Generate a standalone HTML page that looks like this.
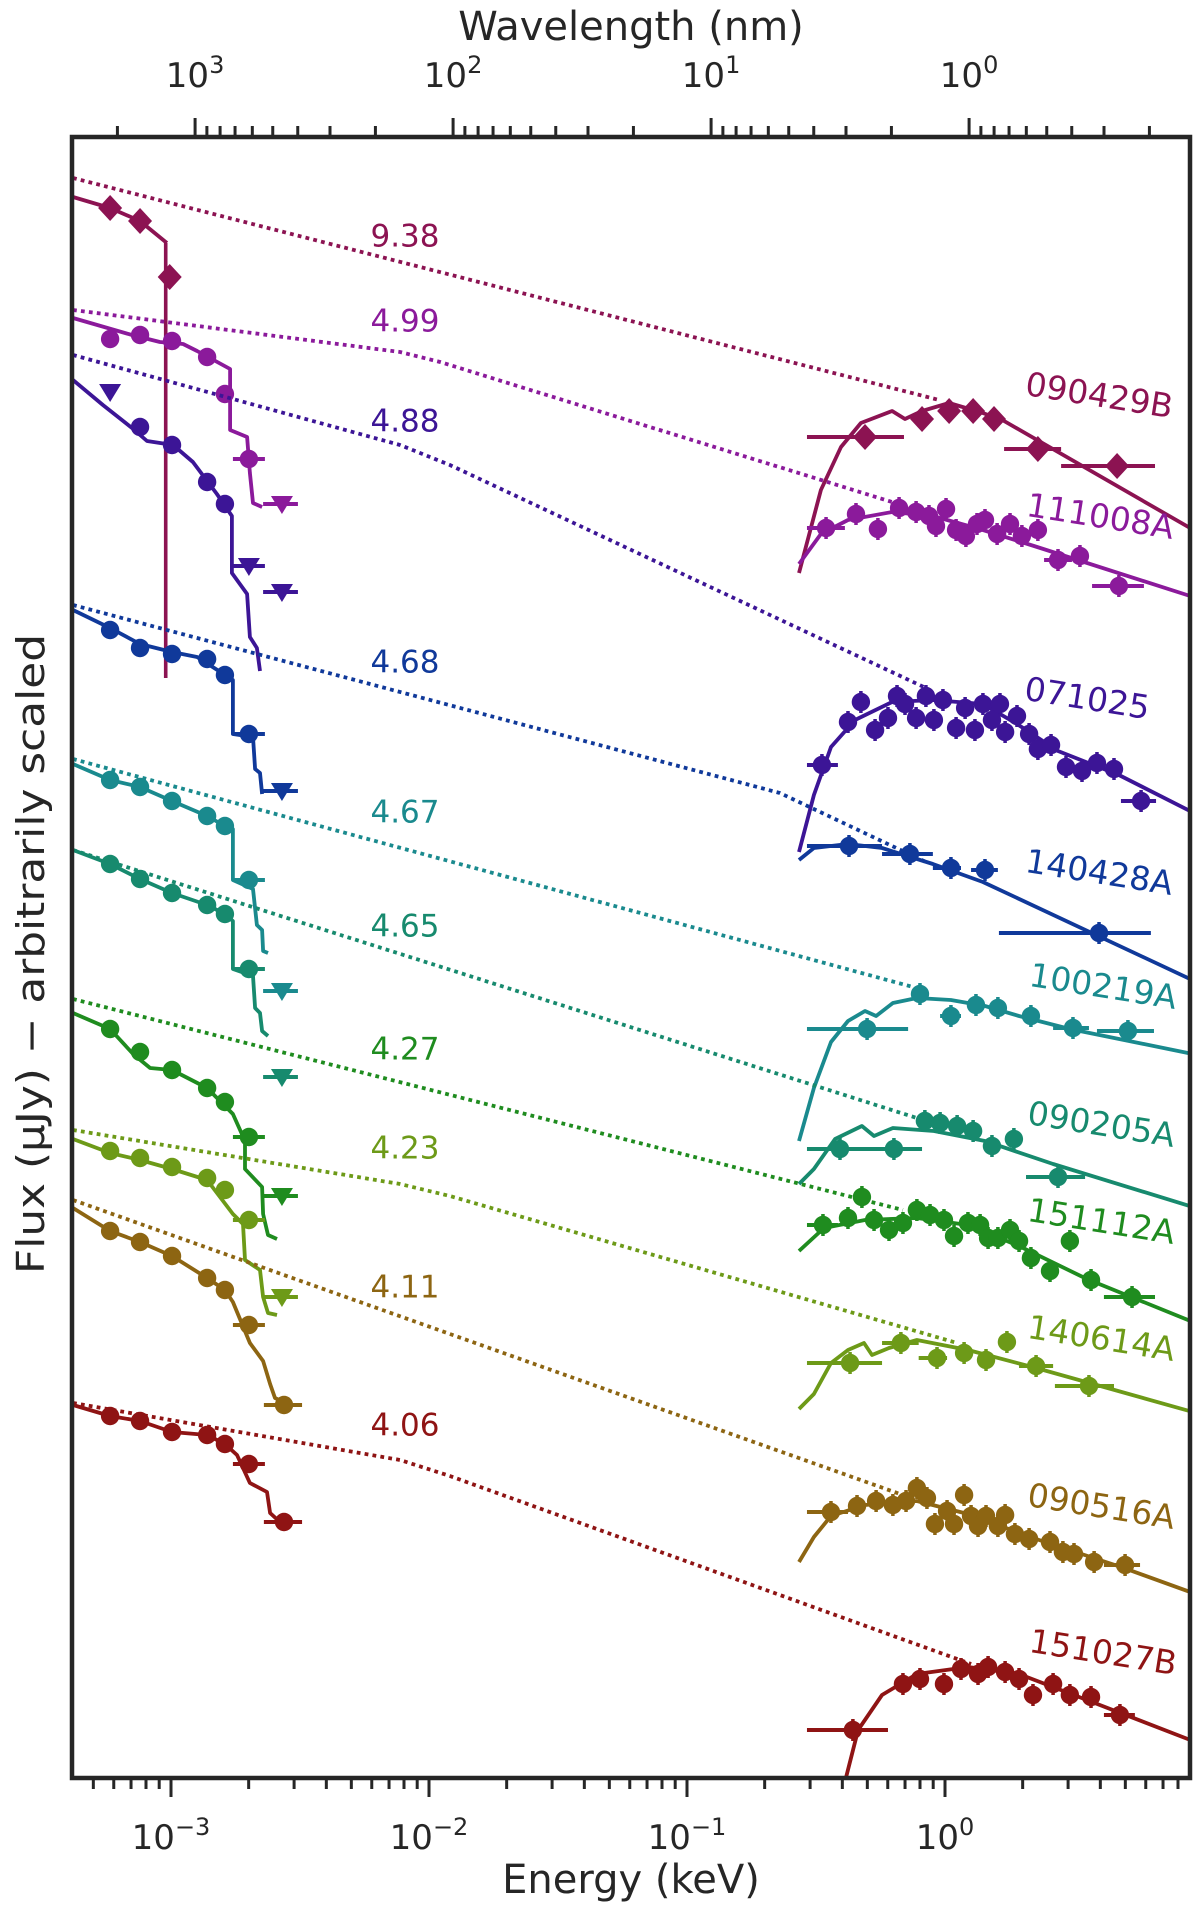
<!DOCTYPE html>
<html><head><meta charset="utf-8">
<style>
html,body{margin:0;padding:0;background:#fff;}
svg{display:block;}
text{font-family:"DejaVu Sans","Liberation Sans",sans-serif;}
</style></head>
<body>
<svg id="chart" width="1200" height="1916" viewBox="0 0 1200 1916" xmlns="http://www.w3.org/2000/svg">
<defs><clipPath id="plotclip"><rect x="72" y="137" width="1118" height="1641"/></clipPath></defs>
<rect x="0" y="0" width="1200" height="1916" fill="#fff"/>
<g id="marks" clip-path="url(#plotclip)"></g>
<g id="axes"></g>
</svg>
<script>
// ---- axis ticks ----
const energyTickExps = [-3, -2, -1, 0];
const wavelengthTickExps = [3, 2, 1, 0];
const zLabelLogE = -2.093;

// ---- 090429B ----
const dot090429B = [[-3.380,160.0],[-0.023,137.8]];
const optModel090429B = [[-3.380,158.1],[-3.236,157.0],[-3.120,155.7],[-3.016,153.5]];
const optPts090429B = [[-3.236,157.0,null,null,'D'],[-3.120,155.7,null,null,'D'],[-3.005,150.1,null,null,'D',153.5,110.0]];
const xModel090429B = [[-0.566,120.5],[-0.481,128.8],[-0.403,133.1],[-0.326,135.5],[-0.205,136.7],[-0.155,135.9],[-0.089,136.7],[0.016,137.5],[0.147,136.5],[0.229,135.7],[0.950,125.0]];
const xPts090429B = [[-0.310,134.1,-0.535,-0.159],[-0.089,135.9],[0.016,136.7],[0.109,136.7],[0.190,135.9],[0.360,132.9,0.229,0.450],[0.667,131.2,0.450,0.814]];
// ---- 111008A ----
const dot111008A = [[-3.380,146.8],[-2.112,142.6],[-1.957,141.6],[-0.205,127.6]];
const optModel111008A = [[-3.380,146.0],[-3.151,144.3],[-3.043,143.6],[-2.953,143.4],[-2.899,142.7],[-2.771,140.9],[-2.771,134.8],[-2.705,134.1],[-2.694,130.5],[-2.682,127.5],[-2.647,127.1]];
const optPts111008A = [[-3.236,143.9,null,null,'o'],[-3.120,144.3,null,null,'o'],[-2.996,143.7,null,null,'o'],[-2.860,142.1,null,null,'o'],[-2.791,138.4,null,null,'o'],[-2.698,131.9,-2.760,-2.636,'o'],[-2.570,127.4,-2.643,-2.508,'v']];
const xModel111008A = [[-0.566,121.4],[-0.481,124.4],[-0.376,125.8],[-0.205,126.6],[-0.047,126.2],[0.147,124.8],[0.345,123.2],[0.950,118.2]];
const xPts111008A = [[-0.461,125.0,-0.535,-0.388],[-0.345,126.4],[-0.260,124.9],[-0.178,127.0],[-0.112,126.6],[-0.062,126.2],[0.004,126.9],[-0.035,125.2],[0.043,124.8],[0.081,124.2],[0.124,125.4],[0.155,125.8],[0.202,124.4],[0.252,125.4],[0.298,124.2],[0.360,124.8],[0.438,121.8,0.384,0.492],[0.523,122.2],[0.674,119.2,0.570,0.771]];
// ---- 071025 ----
const dot071025 = [[-3.380,142.3],[-2.112,133.3],[-1.919,131.3],[-0.074,109.0]];
const optModel071025 = [[-3.380,139.8],[-3.264,137.3],[-3.151,135.0],[-3.093,133.7],[-2.992,133.3],[-2.915,131.6],[-2.822,128.4],[-2.764,126.2],[-2.764,120.5],[-2.705,118.4],[-2.694,114.1],[-2.667,113.0],[-2.655,110.7]];
const optPts071025 = [[-3.236,138.6,null,null,'v'],[-3.120,135.1,null,null,'o'],[-2.996,133.3,null,null,'o'],[-2.860,129.6,null,null,'o'],[-2.791,127.4,null,null,'o'],[-2.698,121.2,-2.760,-2.636,'v'],[-2.570,118.6,-2.643,-2.508,'v']];
const xModel071025 = [[-0.566,92.6],[-0.508,98.3],[-0.442,103.1],[-0.349,105.8],[-0.205,107.6],[-0.047,107.8],[0.147,107.4],[0.279,105.4],[0.438,102.7],[0.674,100.3],[0.950,96.7]];
const xPts071025 = [[-0.477,101.3,-0.535,-0.415],[-0.376,105.6],[-0.326,107.6],[-0.271,104.8],[-0.221,106.0],[-0.186,108.2],[-0.155,107.4],[-0.112,106.0],[-0.074,108.2],[-0.043,105.8],[-0.008,107.8],[0.043,105.0],[0.078,107.0],[0.116,104.8],[0.147,107.4],[0.182,105.8],[0.213,107.4],[0.233,104.6],[0.279,106.2],[0.326,104.4],[0.360,102.9],[0.411,103.3],[0.469,101.1],[0.531,100.7],[0.589,101.5],[0.655,100.9],[0.760,97.7,0.682,0.818]];
// ---- 140428A ----
const dot140428A = [[-3.380,117.3],[-0.640,98.5],[-0.074,91.6]];
const optModel140428A = [[-3.380,116.8],[-3.236,115.0],[-3.120,113.4],[-2.996,112.6],[-2.899,112.1],[-2.760,109.8],[-2.760,104.4],[-2.682,104.1],[-2.674,100.9],[-2.655,100.5],[-2.647,98.4]];
const optPts140428A = [[-3.236,114.8,null,null,'o'],[-3.120,113.0,null,null,'o'],[-2.996,112.4,null,null,'o'],[-2.860,111.9,null,null,'o'],[-2.791,110.3,null,null,'o'],[-2.698,104.4,-2.760,-2.636,'o'],[-2.570,98.7,-2.643,-2.508,'v']];
const xModel140428A = [[-0.566,91.8],[-0.508,93.0],[-0.376,93.4],[-0.244,93.0],[-0.047,91.4],[0.147,89.6],[0.950,79.9]];
const xPts140428A = [[-0.372,93.2,-0.535,-0.244],[-0.136,92.4,-0.244,-0.047],[0.023,91.0,-0.047,0.062],[0.155,90.8,0.101,0.205],[0.597,84.5,0.209,0.798]];
// ---- 100219A ----
const dot100219A = [[-3.380,101.9],[-0.124,79.1]];
const optModel100219A = [[-3.380,101.4],[-3.236,99.8],[-3.120,99.1],[-2.996,97.7],[-2.860,96.2],[-2.791,95.2],[-2.760,94.9],[-2.760,89.8],[-2.682,88.9],[-2.667,85.3],[-2.647,84.8],[-2.643,82.7],[-2.624,82.5]];
const optPts100219A = [[-3.236,99.8,null,null,'o'],[-3.120,99.1,null,null,'o'],[-2.996,97.7,null,null,'o'],[-2.860,96.2,null,null,'o'],[-2.791,95.2,null,null,'o'],[-2.698,89.8,-2.760,-2.636,'o'],[-2.570,78.7,-2.643,-2.508,'v']];
const xModel100219A = [[-0.566,63.7],[-0.508,69.0],[-0.442,73.6],[-0.376,75.7],[-0.310,76.7],[-0.267,76.2],[-0.202,77.5],[-0.109,78.0],[0.023,77.8],[0.155,77.2],[0.287,76.2],[0.484,74.9],[0.961,72.4]];
const xPts100219A = [[-0.302,74.9,-0.535,-0.143],[-0.097,78.4],[0.023,76.2,-0.019,0.062],[0.120,77.3],[0.205,77.0],[0.333,76.2],[0.496,75.0,0.419,0.558],[0.709,74.7,0.589,0.810]];
// ---- 090205A ----
const dot090205A = [[-3.380,92.8],[-0.109,66.0]];
const optModel090205A = [[-3.380,92.8],[-3.236,91.4],[-3.120,89.9],[-2.996,88.5],[-2.860,87.3],[-2.791,86.4],[-2.760,85.7],[-2.760,80.9],[-2.682,80.2],[-2.674,77.0],[-2.655,76.5],[-2.647,74.7],[-2.624,74.2]];
const optPts090205A = [[-3.236,91.4,null,null,'o'],[-3.120,89.9,null,null,'o'],[-2.996,88.5,null,null,'o'],[-2.860,87.3,null,null,'o'],[-2.791,86.4,null,null,'o'],[-2.698,80.9,-2.760,-2.636,'o'],[-2.570,70.1,-2.643,-2.508,'v']];
const xModel090205A = [[-0.566,59.4],[-0.508,60.9],[-0.426,63.9],[-0.322,65.2],[-0.275,64.2],[-0.202,65.0],[-0.043,64.7],[0.155,63.7],[0.419,61.4],[0.961,57.1]];
const xPts090205A = [[-0.407,62.9,-0.535,-0.202],[-0.198,62.9,-0.267,-0.089],[-0.078,65.7],[-0.019,65.5],[0.047,65.2],[0.109,64.7],[0.182,63.2],[0.267,63.9],[0.438,60.1,0.314,0.543]];
// ---- 151112A ----
const dot151112A = [[-3.380,77.9],[-0.163,56.8]];
const optModel151112A = [[-3.380,76.5],[-3.236,74.9],[-3.147,72.4],[-3.081,71.0],[-2.996,70.8],[-2.860,69.0],[-2.760,66.4],[-2.713,63.7],[-2.713,60.9],[-2.647,59.1],[-2.643,56.4],[-2.624,54.3],[-2.589,53.9]];
const optPts151112A = [[-3.236,74.9,null,null,'o'],[-3.120,72.6,null,null,'o'],[-2.996,70.8,null,null,'o'],[-2.860,69.0,null,null,'o'],[-2.791,67.6,null,null,'o'],[-2.698,64.1,-2.760,-2.636,'o'],[-2.570,58.2,-2.643,-2.508,'v']];
const xModel151112A = [[-0.566,52.7],[-0.469,55.0],[-0.310,55.8],[-0.109,56.0],[0.089,55.3],[0.287,53.2],[0.550,49.9],[0.961,45.6]];
const xPts151112A = [[-0.473,55.3,-0.535,-0.415],[-0.376,56.0],[-0.322,58.1],[-0.275,55.8],[-0.217,54.8],[-0.163,55.5],[-0.109,56.8],[-0.058,56.3],[-0.004,55.8],[0.035,54.2],[0.089,55.5],[0.136,55.3],[0.167,54.0],[0.205,54.0],[0.252,54.8],[0.287,53.7],[0.333,52.0],[0.407,50.7],[0.484,53.7],[0.566,49.8],[0.725,48.1,0.616,0.814]];
// ---- 140614A ----
const dot140614A = [[-3.380,64.8],[-2.112,59.4],[-1.919,58.2],[0.047,43.5]];
const optModel140614A = [[-3.380,63.9],[-3.236,62.5],[-3.120,61.8],[-2.996,60.9],[-2.860,59.8],[-2.760,56.4],[-2.721,55.4],[-2.713,51.8],[-2.655,50.8],[-2.643,48.1],[-2.624,46.5],[-2.589,46.3]];
const optPts140614A = [[-3.236,62.7,null,null,'o'],[-3.120,62.0,null,null,'o'],[-2.996,61.1,null,null,'o'],[-2.860,60.0,null,null,'o'],[-2.791,58.8,null,null,'o'],[-2.698,55.8,-2.760,-2.636,'o'],[-2.570,48.1,-2.643,-2.508,'v']];
const xModel140614A = [[-0.566,36.9],[-0.508,38.4],[-0.442,41.5],[-0.376,42.8],[-0.314,43.5],[-0.283,42.3],[-0.217,43.0],[-0.109,43.8],[0.089,42.8],[0.353,41.0],[0.961,36.6]];
const xPts140614A = [[-0.368,41.5,-0.535,-0.244],[-0.171,43.5,-0.244,-0.102],[-0.031,42.0,-0.102,0.008],[0.074,42.5],[0.159,41.8],[0.240,43.6],[0.353,41.2,0.287,0.419],[0.558,39.2,0.426,0.655]];
// ---- 090516A ----
const dot090516A = [[-3.380,57.8],[-0.109,27.8]];
const optModel090516A = [[-3.380,57.0],[-3.236,54.7],[-3.120,53.6],[-2.996,52.2],[-2.860,50.0],[-2.791,48.8],[-2.760,47.6],[-2.694,43.5],[-2.643,41.7],[-2.616,39.4],[-2.597,38.0],[-2.539,37.3]];
const optPts090516A = [[-3.236,54.7,null,null,'o'],[-3.120,53.6,null,null,'o'],[-2.996,52.2,null,null,'o'],[-2.860,50.0,null,null,'o'],[-2.791,48.8,null,null,'o'],[-2.698,45.3,-2.760,-2.636,'o'],[-2.562,37.3,-2.640,-2.492,'o']];
const xModel090516A = [[-0.566,21.6],[-0.508,24.1],[-0.442,26.2],[-0.310,27.3],[-0.109,27.7],[0.089,26.4],[0.353,23.9],[0.682,21.1],[0.961,18.5]];
const xPts090516A = [[-0.442,26.6,-0.535,-0.376],[-0.341,27.2],[-0.267,27.7],[-0.202,27.3],[-0.151,27.7],[-0.109,29.0],[-0.070,28.0],[-0.039,25.4],[0.008,26.7],[0.035,25.4],[0.074,28.3],[0.101,26.2],[0.128,25.2],[0.159,26.2],[0.205,25.2],[0.233,26.3],[0.271,24.4],[0.326,23.9],[0.407,23.6],[0.457,22.6],[0.500,22.4],[0.578,21.6],[0.698,21.3,0.616,0.756]];
// ---- 151027B ----
const dot151027B = [[-3.380,37.5],[-2.112,31.8],[-1.919,30.2],[-0.640,18.3],[0.101,11.4]];
const optModel151027B = [[-3.380,37.3],[-3.236,36.2],[-3.120,35.7],[-2.996,34.6],[-2.860,34.3],[-2.791,33.4],[-2.744,32.3],[-2.694,29.5],[-2.628,28.6],[-2.616,26.5],[-2.578,25.6]];
const optPts151027B = [[-3.236,36.2,null,null,'o'],[-3.120,35.7,null,null,'o'],[-2.996,34.6,null,null,'o'],[-2.860,34.3,null,null,'o'],[-2.791,33.4,null,null,'o'],[-2.698,31.4,-2.760,-2.636,'o'],[-2.562,25.6,-2.640,-2.492,'o']];
const xModel151027B = [[-0.384,0.0],[-0.337,4.8],[-0.244,8.3],[-0.109,10.4],[0.089,11.1],[0.287,10.4],[0.550,7.8],[0.961,3.7]];
const xPts151027B = [[-0.357,4.8,-0.535,-0.221],[-0.163,9.4],[-0.097,9.9],[-0.004,9.4],[0.062,10.9],[0.128,10.4],[0.167,11.1],[0.233,10.6],[0.287,9.9],[0.341,8.3],[0.419,9.4],[0.484,8.3],[0.566,8.1],[0.678,6.3,0.616,0.736]];

const grbNames = ['090429B','111008A','071025','140428A','100219A','090205A','151112A','140614A','090516A','151027B'];
const redshifts = ['9.38','4.99','4.88','4.68','4.67','4.65','4.27','4.23','4.11','4.06'];
const zLabelV = [154.0,145.5,135.5,111.4,96.4,85.0,72.7,62.8,48.9,35.1];
const nameLabelPos = [[0.597,138.1],[0.601,126.0],[0.550,107.8],[0.597,90.4],[0.612,79.0],[0.605,65.2],[0.605,55.5],[0.605,43.8],[0.605,27.0],[0.612,12.4]];
const colors = ['#8c1352','#8b1a9b','#3c1596','#10399a','#1a8a8e','#178a6e','#1f8c1f','#6d9a18','#8d6512','#8f1414'];
const xrayMarker = ['D','o','o','o','o','o','o','o','o','o'];

const dots = [dot090429B,dot111008A,dot071025,dot140428A,dot100219A,dot090205A,dot151112A,dot140614A,dot090516A,dot151027B];
const optModels = [optModel090429B,optModel111008A,optModel071025,optModel140428A,optModel100219A,optModel090205A,optModel151112A,optModel140614A,optModel090516A,optModel151027B];
const optPts = [optPts090429B,optPts111008A,optPts071025,optPts140428A,optPts100219A,optPts090205A,optPts151112A,optPts140614A,optPts090516A,optPts151027B];
const xModels = [xModel090429B,xModel111008A,xModel071025,xModel140428A,xModel100219A,xModel090205A,xModel151112A,xModel140614A,xModel090516A,xModel151027B];
const xPts = [xPts090429B,xPts111008A,xPts071025,xPts140428A,xPts100219A,xPts090205A,xPts151112A,xPts140614A,xPts090516A,xPts151027B];

// ---- axis functions ----
const PL=72, PR=1190, PT=137, PB=1778;
function X(logE){ return 945 + 258*logE; }
function Y(v){ return PB - 10*v; }
const NS='http://www.w3.org/2000/svg';
function mk(tag, attrs, parent){
  const e=document.createElementNS(NS,tag);
  for(const k in attrs) e.setAttribute(k,attrs[k]);
  parent.appendChild(e); return e;
}
const marks=document.getElementById('marks');
const axes=document.getElementById('axes');
function pathOf(arr){ return arr.map((p,i)=>(i?'L':'M')+X(p[0]).toFixed(1)+','+Y(p[1]).toFixed(1)).join(' '); }
function marker(g,t,cx,cy,col){
  let m;
  if(t==='D'){
    m=mk('polygon',{points:`${cx},${cy-13} ${cx+12},${cy} ${cx},${cy+13} ${cx-12},${cy}`,fill:col},g);
  } else if(t==='v'){
    m=mk('polygon',{points:`${cx-11},${cy-8} ${cx+11},${cy-8} ${cx},${cy+10}`,fill:col},g);
  } else {
    m=mk('circle',{cx:cx,cy:cy,r:9.2,fill:col},g);
  }
  return m;
}

for(let i=0;i<grbNames.length;i++){
  const col=colors[i];
  const g=mk('g',{},marks);
  
  
  const d=mk('path',{d:pathOf(dots[i]),fill:'none',stroke:col,'stroke-width':3.8,'stroke-dasharray':'3.8 4.2'},g);
  
  
  const om=mk('path',{d:pathOf(optModels[i]),fill:'none',stroke:col,'stroke-width':3.8,'stroke-linejoin':'round'},g);
  
  
  const xm=mk('path',{d:pathOf(xModels[i]),fill:'none',stroke:col,'stroke-width':3.8,'stroke-linejoin':'round'},g);
  
  
  optPts[i].forEach(p=>{
    const cx=X(p[0]), cy=Y(p[1]);
    if(p[2]!=null){ mk('line',{x1:X(p[2]),x2:X(p[3]),y1:cy,y2:cy,stroke:col,'stroke-width':4},g); }
    if(p[5]!=null){ mk('line',{x1:cx-4,x2:cx-4,y1:Y(p[5]),y2:Y(p[6]),stroke:col,'stroke-width':3.6},g); }
    const m=marker(g,p[4],cx,cy,col);
    
    
  });
  xPts[i].forEach(p=>{
    const cx=X(p[0]), cy=Y(p[1]);
    if(p[2]!=null){ mk('line',{x1:X(p[2]),x2:X(p[3]),y1:cy,y2:cy,stroke:col,'stroke-width':4},g); }
    mk('line',{x1:cx,x2:cx,y1:cy-11,y2:cy+11,stroke:col,'stroke-width':3.5},g);
    const m=marker(g,xrayMarker[i],cx,cy,col);
    
    
  });
  const zl=mk('text',{x:X(zLabelLogE),y:Y(zLabelV[i]),'text-anchor':'middle','dominant-baseline':'middle',fill:col,'font-size':31,'font-family':'Liberation Sans, sans-serif'},axes);
  zl.textContent=redshifts[i];
  
  
  const nx=X(nameLabelPos[i][0]), ny=Y(nameLabelPos[i][1]);
  const nl=mk('text',{x:nx,y:ny,'text-anchor':'middle','dominant-baseline':'middle',fill:col,'font-size':33,'font-family':'Liberation Sans, sans-serif',transform:`rotate(9 ${nx} ${ny})`},axes);
  nl.textContent=grbNames[i];
  
  
}

// ---- frame ----
const frame=mk('rect',{x:PL,y:PT,width:PR-PL,height:PB-PT,fill:'none',stroke:'#262626','stroke-width':4.5},axes);



// bottom ticks (energy)
const logMin=(PL-945)/258, logMax=(PR-945)/258;
for(let e=-4;e<=1;e++){
  for(let k=1;k<=9;k++){
    const lg=e+Math.log10(k);
    if(lg<logMin||lg>logMax) continue;
    const x=X(lg), len=(k===1)?19:11;
    mk('line',{x1:x,x2:x,y1:PB,y2:PB+len,stroke:'#262626','stroke-width':3},axes);
  }
}
energyTickExps.forEach(e=>{
  const t=mk('text',{x:X(e),y:1849,'text-anchor':'middle','font-size':34,fill:'#262626'},axes);
  
  
  t.innerHTML='10<tspan dy="-14" font-size="24">'+(e<0?'\u2212'+(-e):e)+'</tspan>';
});
// top ticks (wavelength nm): E = 1.2398/lambda
for(let e=-1;e<=4;e++){
  for(let k=1;k<=9;k++){
    const lg=Math.log10(1.2398/(k*Math.pow(10,e)));
    if(lg<logMin||lg>logMax) continue;
    const x=X(lg), len=(k===1)?19:11;
    mk('line',{x1:x,x2:x,y1:PT,y2:PT-len,stroke:'#262626','stroke-width':3},axes);
  }
}
wavelengthTickExps.forEach(e=>{
  const lg=Math.log10(1.2398/Math.pow(10,e));
  const t=mk('text',{x:X(lg),y:87,'text-anchor':'middle','font-size':34,fill:'#262626'},axes);
  
  
  t.innerHTML='10<tspan dy="-14" font-size="24">'+e+'</tspan>';
});
// titles
let tt=mk('text',{x:631,y:1893,'text-anchor':'middle','font-size':40,fill:'#262626'},axes);
tt.textContent='Energy (keV)';


tt=mk('text',{x:631,y:40,'text-anchor':'middle','font-size':40,fill:'#262626'},axes);
tt.textContent='Wavelength (nm)';


tt=mk('text',{x:0,y:0,'text-anchor':'middle','font-size':38,fill:'#262626',transform:'translate(44,954) rotate(-90)',textLength:640,lengthAdjust:'spacingAndGlyphs'},axes);
tt.textContent='Flux (\u03bcJy)  \u2212  arbitrarily scaled';


</script>
</body></html>
